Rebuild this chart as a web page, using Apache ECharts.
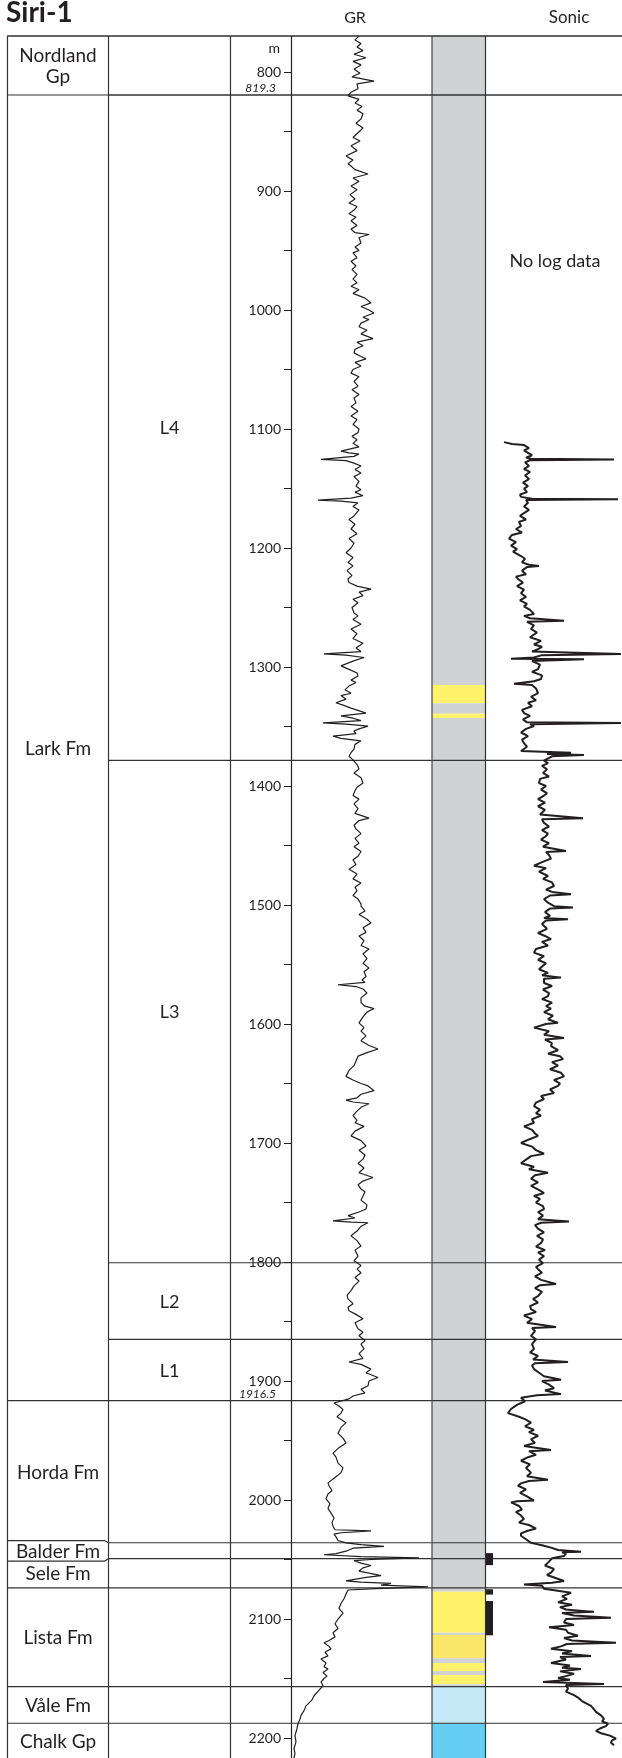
<!DOCTYPE html>
<html><head><meta charset="utf-8">
<script src="https://cdn.jsdelivr.net/npm/echarts@6/dist/echarts.min.js"></script>
<style>html,body{margin:0;padding:0;background:#fff}#c{width:622px;height:1758px}</style>
</head><body><div id="c"></div>
<script>
// ---------------- DATA ----------------
const DEPTH_MIN = 769.7, DEPTH_MAX = 2216.8;
const depthTicks = [];
for (let d = 800; d <= 2200; d += 50) depthTicks.push(d);
const depthLabels = depthTicks.filter(d => d % 100 === 0);
const depthAnnotations = [819.3, 1916.5];

const formationNames = ['Nordland\nGp','Lark Fm','Horda Fm','Balder Fm','Sele Fm','Lista Fm','Våle Fm','Chalk Gp'];
const formationTops  = [769.7, 819.3, 1916.5, 2035.9, 2049.3, 2073.8, 2156.9, 2187.6];
const formationBases = [819.3, 1916.5, 2035.9, 2049.3, 2073.8, 2156.9, 2187.6, 2216.8];

const memberNames = ['L4','L3','L2','L1'];
const memberTops  = [819.3, 1378.4, 1800.6, 1865.0];
const memberBases = [1378.4, 1800.6, 1865.0, 1916.5];

const lithoKinds = ['shale','sand','shale','sand','shale','sand','shale','sand2','shale','sand','shale','sand','shale','marl','chalk'];
const lithoTops  = [769.7,1315.1,1330.5,1339.2,1342.9,2077.0,2111.5,2113.4,2133.0,2136.9,2143.7,2147.1,2154.9,2156.9,2187.6];
const lithoBases = [1315.1,1330.5,1339.2,1342.9,2077.0,2111.5,2113.4,2133.0,2136.9,2143.7,2147.1,2154.9,2156.9,2187.6,2216.8];

const coreTops  = [2044.6, 2075.0, 2084.9];
const coreBases = [2054.7, 2079.5, 2113.7];

const grDepth = [769.7,773,776,779,782,785,788,791,794,797.5,801,804,807.6,810,814,817,820,823,826,829,832,835,839.5,843,847,851,855,858,862,866,870.6,874,877,879,882,885.7,889,892,895.8,899,903,906.7,910,913,916,919,922,925,929,932,935,936.5,939,943.7,947,950,952,956,959,963,966,970,974,977,980,983,986,990,994,997,1000,1002.5,1006,1008,1011,1014,1017,1020,1024,1027,1030,1033,1036,1039,1041,1044,1047,1050,1053,1056,1060,1064,1067,1071,1074,1078,1081,1085,1089,1092,1096,1100,1103,1106,1109,1112,1115,1118.5,1120,1121,1123,1125.5,1126.5,1128.6,1131,1134,1137,1140,1144,1148,1151,1153,1156,1158,1159.7,1160.5,1162,1165,1168,1173,1176,1180,1184,1188,1192,1196,1200,1204,1208,1212,1215,1219,1223,1226,1229,1232,1234.5,1237,1240,1243,1246,1250,1254.6,1257,1260,1264,1268,1272,1276,1280,1284,1287,1289,1290,1292,1295,1299,1302,1305,1307.6,1311,1313,1316,1319,1322,1324,1327,1330,1332,1334.5,1338.7,1341,1343,1345,1347,1348,1349.6,1352,1353.8,1356,1358,1360,1362,1365,1369,1372,1375,1378,1382,1385.7,1389,1393,1397.5,1401,1404,1408,1411,1415,1419,1423,1427,1429,1433,1436,1440,1444,1448,1451,1455,1459,1462,1466,1470,1474,1478,1481.5,1485,1488,1492,1495,1499,1501,1505,1508,1512,1515,1519,1523,1526,1530,1534,1537,1541,1545,1549,1553,1556,1560,1563,1565,1567,1568.5,1570.6,1574,1578,1582,1585,1587,1590,1594,1599,1603,1606,1610,1614,1618,1621,1624,1627,1631,1635,1639,1644,1647,1650,1652,1656,1659,1662,1664,1665.5,1667,1670,1674,1677,1681,1683,1686,1690,1694,1698,1702.5,1706,1710,1713.5,1717,1721,1725,1729,1732,1735,1738.7,1741,1744.5,1748,1752,1755.5,1758,1761,1763,1765.5,1766.5,1767,1770,1774,1778,1782,1786.6,1790,1795,1799,1803,1806,1809,1813,1816,1820,1824,1828,1831,1835,1838,1841,1844,1847.7,1851,1856,1859,1862,1866,1869,1873,1877,1881,1884,1886,1890,1893,1897,1900,1904,1907,1910,1912.6,1915,1918.5,1921,1924,1927,1930,1935,1939,1944,1948,1952,1956,1960.6,1964,1969,1973,1977,1981,1985.6,1988,1992,1995,1999,2003,2007,2011,2015,2019,2022,2025,2026,2027.5,2028.6,2031,2034,2036,2037.5,2039,2040.5,2043,2045,2046,2047.5,2048.7,2050,2051,2053,2055,2057,2059.7,2061.5,2063.5,2065,2068,2069,2070,2071.5,2073,2074.5,2075.6,2079,2083,2087,2091,2095,2100,2104,2108,2111.6,2115,2118,2120,2123,2125,2128,2131,2133.6,2137,2140,2142,2145,2148,2150,2153,2156,2160,2164.5,2168,2173,2177,2181,2184,2188,2192,2198,2203,2209,2213,2216.8];
const grValue = [68,64,70,66,72,63,75,62,70,63,69,61,83,66,67,60,57,68,64,71,66,72,70,65,72,67,62,69,60,66,55,62,57,60,64,77,62,68,60,66,59,64,58,66,63,58,65,60,66,60,64,78,68,70,64,68,62,66,60,65,61,66,62,66,60,68,62,74,80,70,78,83,72,78,70,68,76,70,82,66,72,64,63,70,75,64,70,62,60,68,63,67,61,68,63,65,60,67,60,66,62,68,67,61,66,62,68,50,58,68,63,30,55,63,70,64,70,63,68,65,70,64,72,60,27,50,67,62,68,63,58,64,60,66,58,63,60,55,62,57,62,56,61,57,58,66,80,68,72,62,67,61,63,67,62,70,60,66,62,72,65,70,33,55,73,62,50,58,66,67,60,65,58,54,60,50,55,45,52,60,75,50,62,70,32,55,77,68,63,65,42,50,70,64,63,60,58,62,66,68,63,70,72,66,64,62,68,63,67,64,78,68,63,65,70,64,68,63,70,67,62,65,58,66,62,70,64,66,62,67,70,70,74,68,76,80,72,75,68,73,70,78,72,76,72,78,73,75,71,74,47,65,72,76,70,70,74,83,76,72,68,73,70,75,70,78,87,76,67,65,63,58,55,62,70,77,83,70,66,55,62,78,70,65,62,66,64,73,64,60,70,75,68,74,72,67,73,68,82,72,67,70,74,72,70,76,75,68,57,64,42,60,77,70,66,60,66,70,64,67,63,70,66,70,64,68,63,60,56,57,62,57,58,65,72,64,67,72,68,74,70,73,68,72,58,70,80,75,87,78,77,70,74,62,58,43,48,52,50,46,55,50,47,52,55,48,42,45,47,52,50,44,37,38,41,37,35,39,37,40,43,41,42,44,80,50,43,45,47,55,70,93,62,55,45,33,70,128,80,63,70,80,72,68,78,90,75,55,70,100,90,137,85,57,55,53,50,48,52,47,44,47,42,44,38,33,38,40,34,37,30,35,33,37,32,36,33,30,32,28,23,21,15,13,10,9,7,6,4,5,3,4,3];

const sonicDepth = [1111,1112.6,1113.5,1116,1118,1120,1122,1124,1125,1125.5,1126.2,1128,1131,1133.6,1136,1139,1142,1145,1148,1150,1153,1155,1157,1158.5,1159,1159.6,1162,1165,1168,1170.6,1173,1176,1178,1181.5,1184,1187,1189,1192,1195,1198,1201,1203,1206.7,1209,1212,1214,1215,1216,1219,1222,1224,1226,1229,1232,1235,1238,1241,1244,1247,1249,1252,1255.5,1257,1259,1261,1262,1265,1268,1271,1275,1278,1281,1283,1285,1287,1289,1290,1292,1293,1293.5,1295,1298,1301.7,1304,1307,1310,1312,1314,1315,1318,1322,1325,1328,1330,1333,1336,1338.7,1341,1344,1346.5,1347,1348,1349.6,1352,1355,1358,1361,1364,1367,1370.6,1372,1373,1374,1375,1376.5,1378.7,1380.7,1383,1386,1389,1392,1394,1397.5,1400,1403,1406,1408,1411,1414,1417,1420,1424,1427,1428,1431,1434,1437,1440,1442,1445,1448,1451,1454.6,1455.5,1458,1461,1464,1467,1469,1472,1475.6,1478,1481,1484,1487,1489,1491,1492,1495,1498,1501,1502,1503,1506,1509,1511,1512,1513,1516,1520,1523.5,1526,1528.6,1531,1534,1537,1540,1543,1546,1549,1551,1554,1557,1559,1561,1562,1565.5,1568,1571,1574,1576.5,1579,1582,1585,1587,1590,1593,1596,1599,1600,1603,1606,1609,1611.7,1613,1616,1618.5,1622,1625,1627,1629.5,1632,1635,1638,1641,1644,1647,1650,1652,1655,1658,1660.5,1663,1666,1669,1672,1675,1677,1680,1683,1686,1689,1692,1694,1697,1700,1703,1706,1709,1711,1714,1717,1720,1722,1725,1727,1730,1733,1736,1739,1742,1744.5,1747,1750,1753,1755.5,1758,1761,1764,1766,1767,1769,1772,1775,1778,1781,1784,1787,1790,1792,1795,1798,1801,1804,1806,1809,1812,1815,1818.5,1819.5,1822,1825,1828.6,1831,1834,1837,1839.5,1842,1845,1848,1851,1854.6,1855.5,1858,1862,1865,1869,1873,1876,1879,1882,1884,1885,1887,1890,1893,1896,1899,1900,1903,1906,1908,1911,1912,1914,1917,1920,1923.5,1927,1930,1932,1935,1938,1941,1943,1946,1949,1952,1954.6,1958,1959,1962,1964,1967,1970,1973,1977,1980,1983,1984,1986,1988,1991,1994,1997,2000.5,2001,2002,2005,2008,2010,2013,2016,2019,2021,2024,2026,2028,2030,2033,2036,2038,2040,2042,2043.4,2044,2045,2047,2049,2050.5,2052.6,2055,2058,2061,2063,2066,2068,2069.5,2071,2072,2074.5,2076,2078,2081,2083,2086,2088,2090,2092,2094,2095,2097,2099,2100,2103,2105,2107,2109,2111.6,2114,2116,2118,2120,2121,2123,2125,2127,2129,2131,2132,2134,2137,2139,2141,2142,2144,2146,2148,2149.6,2151,2153,2154.6,2155.5,2158.6,2161,2164,2166,2169,2173,2176,2178,2181,2184,2186,2188,2190,2192,2194,2196,2198,2200.5,2202,2204,2206];
const sonicValue = [158,150,138,133,138,134,130,136,131,48,132,137,133,138,132,137,133,139,134,138,135,142,141,130,44,136,134,138,133,138,142,136,143,141,146,140,150,153,146,151,145,149,141,137,140,133,123,135,140,136,146,144,139,145,138,141,136,142,135,138,132,128,138,132,98,135,128,131,125,132,121,128,120,124,130,41,120,128,151,78,130,122,124,130,120,121,128,148,130,126,124,131,126,134,130,140,138,132,139,135,41,132,128,136,141,134,140,138,135,141,91,115,78,110,108,118,114,120,115,119,113,122,123,116,121,115,118,124,117,124,117,122,79,120,118,113,120,114,116,121,113,119,96,116,113,111,120,128,116,123,114,119,110,108,116,110,91,112,118,114,108,89,112,117,112,118,94,116,120,115,124,117,111,120,114,126,128,118,124,116,119,123,114,120,101,118,118,110,119,113,114,120,110,116,111,118,109,114,104,116,128,113,118,98,117,110,111,104,114,102,99,110,104,112,101,98,108,102,104,112,108,121,118,126,128,122,126,121,130,128,138,130,127,124,133,141,130,126,118,131,136,141,128,133,114,127,131,124,131,124,118,128,122,126,119,118,124,119,124,93,121,127,124,118,125,119,121,126,117,124,118,123,119,126,124,120,127,121,106,122,127,120,124,129,124,132,131,126,138,130,135,106,130,127,131,126,130,128,132,124,129,94,127,130,128,123,118,101,120,113,108,117,101,125,141,137,145,151,154,143,137,131,137,128,133,124,131,127,138,111,133,126,134,141,132,136,131,135,114,133,141,144,136,142,135,128,145,151,143,140,146,141,138,143,133,126,135,141,141,136,131,120,111,104,81,100,96,98,110,112,114,117,108,111,115,105,98,110,138,120,118,106,91,100,95,104,90,102,96,68,100,88,51,96,98,88,113,96,94,84,98,90,46,95,101,111,90,100,71,102,96,111,92,100,81,102,88,96,104,92,119,58,96,94,96,88,84,80,71,68,66,61,58,60,54,56,62,66,61,52,46,50,51,48,42];

// ---------------- BUILD ----------------
const grData = grDepth.map((d,i) => [grValue[i], d]);
const sonicData = sonicDepth.map((d,i) => [sonicValue[i], d]);
const flagRows = ['Balder Fm'];   // label box drawn with a flag outline in column 1
const tableRows = formationNames.map((n,i) => ({name:n, top:formationTops[i], bot:formationBases[i], level:0,
    flag: flagRows.includes(n), afterFlag: i > 0 && flagRows.includes(formationNames[i-1])}))
  .concat(memberNames.map((n,i) => ({name:n, top:memberTops[i], bot:memberBases[i], level:1})));
const tableData = tableRows.map(r => [0, r.top, r.bot]);
const lithoData = lithoKinds.map((k,i) => [0, lithoTops[i], lithoBases[i]]);
const coreData = coreTops.map((t,i) => [0, t, coreBases[i]]);
const annotData = depthAnnotations.map(d => [0, d]);

const FONT = 'Lato, "Open Sans", sans-serif';
const INK = '#231F20';
const LINE = '#333';
const lithoColors = {shale:'#D1D2D4', sand:'#FFF36B', sand2:'#FBE86A', marl:'#C6E9F8', chalk:'#66CEF3'};

const TOP = 36, H = 1722;
const C1L = 7.5, C1R = 108.5, C2R = 230.5;
const chart = echarts.init(document.getElementById('c'), null, {renderer:'canvas'});

function tableItem(params, api) {
  const row = tableRows[params.dataIndex];
  const yT = api.coord([0, api.value(1)])[1];
  const yB = api.coord([0, api.value(2)])[1];
  const children = [];
  const ls = {stroke:LINE, lineWidth:1.2, fill:null};
  if (row.level === 0) {
    const xs = (row.flag || row.afterFlag) ? C1R : C1L;
    children.push({type:'line', shape:{x1:xs, y1:yT, x2:622, y2:yT}, style:ls});
    if (row.flag) {
      children.push({type:'polyline', shape:{points:[[C1L, yT-2.2],[C1R-4, yT-2.2],[C1R, yT]]}, style:ls});
      children.push({type:'polyline', shape:{points:[[C1L, yB+2.4],[C1R-4, yB+2.4],[C1R, yB]]}, style:ls});
    }
    children.push({type:'text', style:{text:row.name, x:(C1L+C1R)/2, y:(yT+yB)/2 + 1, align:'center', verticalAlign:'middle',
      font:'19px ' + FONT, fill:INK, lineHeight:21}});
  } else {
    children.push({type:'line', shape:{x1:C1R, y1:yT, x2:622, y2:yT}, style:ls});
    children.push({type:'text', style:{text:row.name, x:(C1R+C2R)/2, y:(yT+yB)/2 + 1, align:'center', verticalAlign:'middle',
      font:'18px ' + FONT, fill:INK}});
  }
  return {type:'group', children};
}

const option = {
  animation: false,
  backgroundColor: '#fff',
  grid: [
    {left:0, top:TOP, width:622, height:H},
    {left:291, top:TOP, width:141, height:H},
    {left:432, top:TOP, width:53.5, height:H},
    {left:485.5, top:TOP, width:7.5, height:H},
    {left:486, top:TOP, width:136, height:H}
  ],
  xAxis: [
    {gridIndex:0, type:'value', min:0, max:622, show:false},
    {gridIndex:1, type:'value', min:0, max:141, show:false},
    {gridIndex:2, type:'value', min:0, max:1, show:false},
    {gridIndex:3, type:'value', min:0, max:1, show:false},
    {gridIndex:4, type:'value', min:40, max:176, inverse:true, show:false}
  ],
  yAxis: [
    {gridIndex:0, type:'value', min:DEPTH_MIN, max:DEPTH_MAX, inverse:true, show:false},
    {gridIndex:1, type:'value', min:DEPTH_MIN, max:DEPTH_MAX, inverse:true, position:'left',
      axisLine:{show:true, onZero:false, lineStyle:{color:INK, width:1.2}},
      axisTick:{show:true, inside:false, length:7, customValues:depthTicks, lineStyle:{color:INK, width:1}},
      axisLabel:{show:true, customValues:depthLabels, margin:10, fontSize:14, fontFamily:FONT, color:INK,
        formatter: v => String(v)},
      splitLine:{show:false}},
    {gridIndex:2, type:'value', min:DEPTH_MIN, max:DEPTH_MAX, inverse:true, show:false},
    {gridIndex:3, type:'value', min:DEPTH_MIN, max:DEPTH_MAX, inverse:true, show:false},
    {gridIndex:4, type:'value', min:DEPTH_MIN, max:DEPTH_MAX, inverse:true, show:false}
  ],
  series: [
    {type:'custom', xAxisIndex:2, yAxisIndex:2, data:lithoData, z:1,
      renderItem:(params, api) => {
        const p0 = api.coord([0, api.value(1)]);
        const p1 = api.coord([1, api.value(2)]);
        return {type:'rect', shape:{x:p0[0], y:p0[1], width:p1[0]-p0[0], height:p1[1]-p0[1]},
          style:{fill: lithoColors[lithoKinds[params.dataIndex]]}};
      }},
    {type:'custom', xAxisIndex:3, yAxisIndex:3, data:coreData, z:3,
      renderItem:(params, api) => {
        const p0 = api.coord([0, api.value(1)]);
        const p1 = api.coord([1, api.value(2)]);
        return {type:'rect', shape:{x:p0[0], y:p0[1], width:p1[0]-p0[0], height:p1[1]-p0[1]},
          style:{fill:INK}};
      }},
    {type:'custom', xAxisIndex:0, yAxisIndex:0, data:tableData, z:2,
      renderItem: tableItem},
    {type:'custom', xAxisIndex:0, yAxisIndex:0, data:annotData, z:4,
      renderItem:(params, api) => {
        const v = depthAnnotations[params.dataIndex];
        const y = api.coord([0, v])[1];
        return {type:'text', style:{text: v.toFixed(1), x:276, y:y-1, align:'right',
          verticalAlign:'bottom', font:'italic 12px ' + FONT, fill:INK}};
      }},
    {type:'line', xAxisIndex:1, yAxisIndex:1, data:grData, showSymbol:false, clip:true, z:5,
      lineStyle:{color:INK, width:1.2}},
    {type:'line', xAxisIndex:4, yAxisIndex:4, data:sonicData, showSymbol:false, clip:true, z:5,
      lineStyle:{color:INK, width:2}}
  ],
  graphic: [
    {type:'text', x:6, y:13, z:10, style:{text:'Siri-1', font:'bold 28px ' + FONT, fill:INK, verticalAlign:'middle'}},
    {type:'text', x:355, y:18, z:10, style:{text:'GR', font:'16px ' + FONT, fill:INK, align:'center', verticalAlign:'middle'}},
    {type:'text', x:569, y:18, z:10, style:{text:'Sonic', font:'17px ' + FONT, fill:INK, align:'center', verticalAlign:'middle'}},
    {type:'text', x:280, y:48, z:10, style:{text:'m', font:'14px ' + FONT, fill:INK, align:'right', verticalAlign:'middle'}},
    {type:'text', x:555, y:261, z:10, style:{text:'No log data', font:'18px ' + FONT, fill:INK, align:'center', verticalAlign:'middle'}},
    {type:'line', z:10, shape:{x1:7, y1:TOP, x2:622, y2:TOP}, style:{stroke:LINE, lineWidth:1.2}},
    {type:'line', z:10, shape:{x1:C1L, y1:TOP, x2:C1L, y2:1758}, style:{stroke:LINE, lineWidth:1.2}},
    {type:'line', z:10, shape:{x1:C1R, y1:TOP, x2:C1R, y2:1758}, style:{stroke:LINE, lineWidth:1.2}},
    {type:'line', z:10, shape:{x1:C2R, y1:TOP, x2:C2R, y2:1758}, style:{stroke:LINE, lineWidth:1.2}},
    {type:'line', z:10, shape:{x1:432, y1:TOP, x2:432, y2:1758}, style:{stroke:'#444', lineWidth:1.2}},
    {type:'line', z:10, shape:{x1:485.5, y1:TOP, x2:485.5, y2:1758}, style:{stroke:LINE, lineWidth:1.2}}
  ]
};
chart.setOption(option);
</script>
</body></html>
